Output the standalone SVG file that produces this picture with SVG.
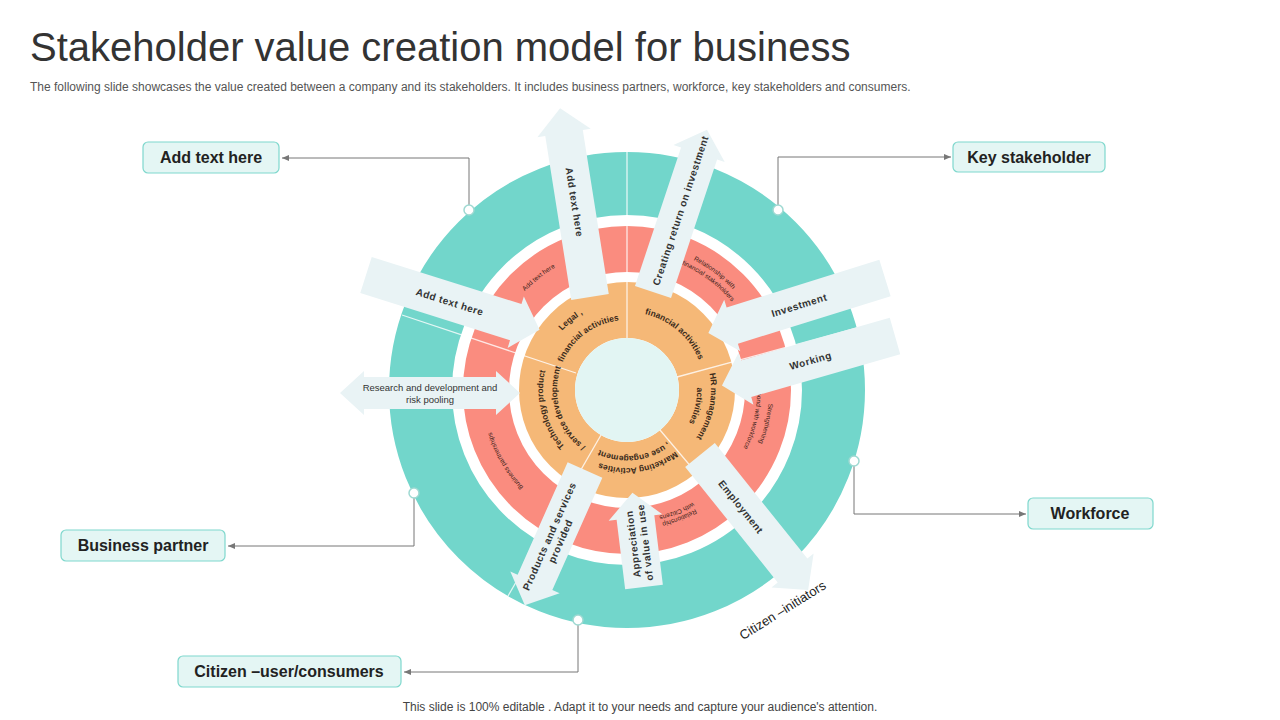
<svg xmlns="http://www.w3.org/2000/svg" xmlns:xlink="http://www.w3.org/1999/xlink" width="1280" height="720" viewBox="0 0 1280 720">
<style>
text{font-family:"Liberation Sans",Arial,sans-serif;fill:#222}
.box{fill:#e4f6f4;stroke:#7fd8cd;stroke-width:1.2}
.bt{font-size:16px;font-weight:bold;fill:#222;text-anchor:middle}
.arr{fill:#e9f3f5}
.at{font-size:10px;font-weight:bold;fill:#333;text-anchor:middle;letter-spacing:0.5px}
.ot{font-size:8.5px;font-weight:bold;fill:#3a2a1a}
.st{font-size:6.5px;fill:#3a1f1a}
.ln{fill:none;stroke:#777;stroke-width:1}
.dot{fill:#fff;stroke:#9fd9d2;stroke-width:1.5}
.div{stroke:#fff;stroke-width:1.3;opacity:0.8}
</style>
<defs>
<marker id="ah" markerWidth="8" markerHeight="8" refX="7" refY="4" orient="auto"><path d="M0,1 L7,4 L0,7 Z" fill="#777"/></marker>
<path id="c66" d="M561,390 A66,66 0 1 1 693,390 A66,66 0 1 1 561,390 A66,66 0 1 1 693,390 A66,66 0 1 1 561,390"/>
<path id="c70" d="M557,390 A70,70 0 1 1 697,390 A70,70 0 1 1 557,390 A70,70 0 1 1 697,390 A70,70 0 1 1 557,390"/>
<path id="c78" d="M549,390 A78,78 0 1 1 705,390 A78,78 0 1 1 549,390 A78,78 0 1 1 705,390 A78,78 0 1 1 549,390"/>
<path id="c84" d="M543,390 A84,84 0 1 1 711,390 A84,84 0 1 1 543,390 A84,84 0 1 1 711,390 A84,84 0 1 1 543,390"/>
<path id="c88" d="M539,390 A88,88 0 1 1 715,390 A88,88 0 1 1 539,390 A88,88 0 1 1 715,390 A88,88 0 1 1 539,390"/>
<path id="c130" d="M497,390 A130,130 0 1 1 757,390 A130,130 0 1 1 497,390 A130,130 0 1 1 757,390 A130,130 0 1 1 497,390"/>
<path id="c137" d="M490,390 A137,137 0 1 1 764,390 A137,137 0 1 1 490,390 A137,137 0 1 1 764,390 A137,137 0 1 1 490,390"/>
<path id="c142" d="M485,390 A142,142 0 1 1 769,390 A142,142 0 1 1 485,390 A142,142 0 1 1 769,390 A142,142 0 1 1 485,390"/>
<path id="c146" d="M481,390 A146,146 0 1 1 773,390 A146,146 0 1 1 481,390 A146,146 0 1 1 773,390 A146,146 0 1 1 481,390"/>
</defs>
<rect width="1280" height="720" fill="#fff"/>
<text x="30" y="61" font-size="40" style="fill:#333">Stakeholder value creation model for business</text>
<text x="30" y="91" font-size="12" style="fill:#555">The following slide showcases the value created between a company and its stakeholders. It includes business partners, workforce, key stakeholders and consumers.</text>
<text x="640" y="711" font-size="12" text-anchor="middle" style="fill:#444">This slide is 100% editable . Adapt it to your needs and capture your audience's attention.</text>

<g id="rings">
<circle cx="627" cy="390" r="206.5" fill="none" stroke="#72d6cb" stroke-width="63"/>
<circle cx="627" cy="390" r="141" fill="none" stroke="#fa8c7f" stroke-width="46"/>
<circle cx="627" cy="390" r="80" fill="none" stroke="#f5b877" stroke-width="56"/>
<circle cx="627" cy="390" r="52" fill="#e2f5f3"/>
<g class="div">
<line x1="627" y1="338" x2="627" y2="152"/>
<line x1="677" y1="377" x2="857" y2="328"/>
<line x1="660" y1="430" x2="780" y2="572"/>
<line x1="601" y1="435" x2="508" y2="596"/>
<line x1="576" y1="373" x2="402" y2="315"/>
</g>
</g>

<g id="ring-labels">
<text class="ot" text-anchor="middle"><textPath href="#c88" startOffset="7.1%">Legal ,</textPath></text>
<text class="ot" text-anchor="middle"><textPath href="#c70" startOffset="7.4%">financial activities</textPath></text>
<text class="ot" text-anchor="middle"><textPath href="#c78" startOffset="18.1%">financial activities</textPath></text>
<text class="ot" text-anchor="middle"><textPath href="#c84" startOffset="26.6%">HR management</textPath></text>
<text class="ot" text-anchor="middle"><textPath href="#c70" startOffset="26.8%">activities</textPath></text>
<text class="ot" text-anchor="middle"><textPath href="#c78" startOffset="36.3%">Marketing Activities</textPath></text>
<text class="ot" text-anchor="middle"><textPath href="#c66" startOffset="36.6%">, use engagement</textPath></text>
<text class="ot" text-anchor="middle"><textPath href="#c84" startOffset="48.0%">Technology product</textPath></text>
<text class="ot" text-anchor="middle"><textPath href="#c70" startOffset="47.6%">/ service development</textPath></text>
<text class="st" text-anchor="middle"><textPath href="#c142" startOffset="7.2%">Add text here</textPath></text>
<text class="st" text-anchor="middle"><textPath href="#c146" startOffset="17.6%">Relationship with</textPath></text>
<text class="st" text-anchor="middle"><textPath href="#c137" startOffset="17.6%">financial stakeholders</textPath></text>
<text class="st" text-anchor="middle"><textPath href="#c142" startOffset="26.9%">Strengthening</textPath></text>
<text class="st" text-anchor="middle"><textPath href="#c130" startOffset="26.9%">bond with workforce</textPath></text>
<text class="st" text-anchor="middle"><textPath href="#c137" startOffset="34.4%">Relationship</textPath></text>
<text class="st" text-anchor="middle"><textPath href="#c130" startOffset="34.4%">with Citizens</textPath></text>
<text class="st" text-anchor="middle"><textPath href="#c142" startOffset="45.8%">Business partnerships</textPath></text>
</g>

<g id="arrows">
<g transform="translate(590,297) rotate(-99)"><path class="arr" d="M0,-19 H166 V-27 L191,0 L166,27 V19 H0 Z"/><text class="at" x="96" y="4" transform="rotate(180 96 0)">Add text here</text></g>
<g transform="translate(653,292) rotate(-71.6)"><path class="arr" d="M0,-19 H146 V-27 L171,0 L146,27 V19 H0 Z"/><text class="at" x="86" y="4">Creating return on investment</text></g>
<g transform="translate(366,275) rotate(17.5)"><path class="arr" d="M0,-19 H157 V-27 L182,0 L157,27 V19 H0 Z"/><text class="at" x="88" y="4">Add  text here</text></g>
<g transform="translate(885,278) rotate(162.7)"><path class="arr" d="M0,-19 H160 V-27 L185,0 L160,27 V19 H0 Z"/><text class="at" x="90" y="4" transform="rotate(180 90 0)">Investment</text></g>
<g transform="translate(895,336) rotate(164)"><path class="arr" d="M0,-19 H155 V-27 L180,0 L155,27 V19 H0 Z"/><text class="at" x="88" y="4" transform="rotate(180 88 0)">Working</text></g>
<g transform="translate(340,393)"><path class="arr" d="M0,0 L24,-22 V-16 H156 V-22 L180,0 L156,22 V16 H24 V22 Z"/><text class="at" x="90" y="-2" style="font-weight:normal;font-size:9.5px;letter-spacing:0">Research and development and</text><text class="at" x="90" y="10" style="font-weight:normal;font-size:9.5px;letter-spacing:0">risk pooling</text></g>
<g transform="translate(585,470) rotate(114)"><path class="arr" d="M0,-19 H123 V-27 L148,0 L123,27 V19 H0 Z"/><g transform="rotate(180 75 0)"><text class="at" x="75" y="-2">Products and services</text><text class="at" x="75" y="10">provided</text></g></g>
<g transform="translate(644,587) rotate(-97)"><path class="arr" d="M0,-19 H70 V-27 L95,0 L70,27 V19 H0 Z"/><text class="at" x="44" y="-2">Appreciation</text><text class="at" x="44" y="10">of value in use</text></g>
<g transform="translate(700,455) rotate(51.3)"><path class="arr" d="M0,-19 H148 V-27 L173,0 L148,27 V19 H0 Z"/><text class="at" x="66" y="4">Employment</text></g>
</g>

<text x="785" y="614" font-size="13" text-anchor="middle" transform="rotate(-32 785 614)">Citizen –initiators</text>

<g id="connectors">
<path class="ln" d="M469,210 V158 H282" marker-end="url(#ah)"/>
<path class="ln" d="M778,210 V157 H951" marker-end="url(#ah)"/>
<path class="ln" d="M854,461 V514 H1026" marker-end="url(#ah)"/>
<path class="ln" d="M414,493 V546 H228" marker-end="url(#ah)"/>
<path class="ln" d="M578,620 V672 H404" marker-end="url(#ah)"/>
<circle class="dot" cx="469" cy="210" r="5"/>
<circle class="dot" cx="778" cy="210" r="5"/>
<circle class="dot" cx="854" cy="461" r="5"/>
<circle class="dot" cx="414" cy="493" r="5"/>
<circle class="dot" cx="578" cy="620" r="5"/>
</g>

<g id="node-addtext"><rect class="box" x="143" y="142" width="136" height="31" rx="5"/><text class="bt" x="211" y="163">Add text here</text></g>
<g id="node-key"><rect class="box" x="953" y="142" width="152" height="30" rx="5"/><text class="bt" x="1029" y="163">Key stakeholder</text></g>
<g id="node-workforce"><rect class="box" x="1028" y="498" width="125" height="31" rx="5"/><text class="bt" x="1090" y="519">Workforce</text></g>
<g id="node-business"><rect class="box" x="61" y="530" width="164" height="31" rx="5"/><text class="bt" x="143" y="551">Business partner</text></g>
<g id="node-citizen"><rect class="box" x="178" y="656" width="223" height="31" rx="5"/><text class="bt" x="289" y="677">Citizen –user/consumers</text></g>
</svg>
